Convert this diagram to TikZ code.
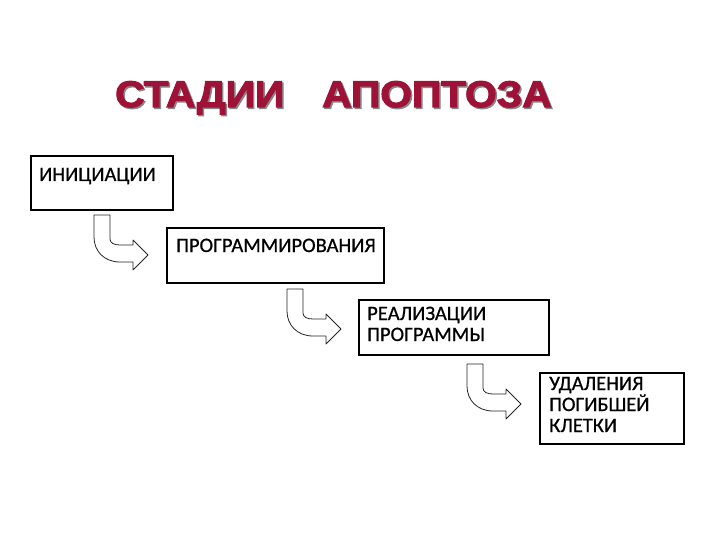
\documentclass[tikz,border=0pt]{standalone}
\usepackage{fontspec}
\setmainfont{Carlito}
\newfontfamily\boxfont{Carlito}[FakeBold=0.7]
\newfontfamily\titlefont{Liberation Sans}[FakeStretch=1.1, FakeBold=3]
\usetikzlibrary{calc}
\definecolor{titlered}{RGB}{158,18,56}
\definecolor{shadowgray}{RGB}{135,135,135}
\tikzset{
  stagebox/.style={draw=black, line width=2pt, fill=white, inner sep=0pt},
  boxtext/.style={inner sep=0pt, align=left, font=\boxfont\fontsize{20.5}{21}\selectfont, anchor=base west},
  titletext/.style={inner sep=0pt, anchor=base west, text=titlered, font=\titlefont\bfseries\fontsize{37}{40}\selectfont},
  titleshadow/.style={titletext, text=shadowgray},
  bentarrow/.style={draw=black!85, line width=0.8pt, fill=white, line join=round}
}
\newcommand{\bentarrowat}[1]{%
  \draw[bentarrow, shift={(#1)}]
    (0,0) -- (16,0) -- (16,24) .. controls (16,28) and (20,30) .. (26,30)
    -- (39,30) -- (39,25) -- (54,40) -- (39,55) -- (39,47) -- (26,47)
    .. controls (10,47) and (0,36) .. (0,22) -- cycle;}
\begin{document}
\begin{tikzpicture}[x=1pt, y=-1pt]
  \useasboundingbox[fill=white] (0,0) rectangle (720,540);

  % title with shadow
  \node[titleshadow] at (116.5,108.5) {СТАДИИ};
  \node[titleshadow] at (323.5,108.5) {АПОПТОЗА};
  \node[titletext] (t1) at (115,107) {СТАДИИ};
  \node[titletext] (t2) at (322,107) {АПОПТОЗА};

  % boxes
  \node[stagebox, minimum width=142pt, minimum height=54pt] (b1) at (102,183) {};
  \node[stagebox, minimum width=217pt, minimum height=55pt] (b2) at (275.5,255.5) {};
  \node[stagebox, minimum width=190pt, minimum height=55pt] (b3) at (454,327.5) {};
  \node[stagebox, minimum width=144pt, minimum height=71pt] (b4) at (612,408.5) {};

  % texts (anchor = baseline of the last line)
  \node[boxtext] (l1) at ($(b1.north west)+(9,26)$) {ИНИЦИАЦИИ};
  \node[boxtext] (l2) at ($(b2.north west)+(10,25)$) {ПРОГРАММИРОВАНИЯ};
  \node[boxtext] (l3) at ($(b3.north west)+(9,42)$) {РЕАЛИЗАЦИИ\\ПРОГРАММЫ};
  \node[boxtext] (l4) at ($(b4.north west)+(10,60)$) {УДАЛЕНИЯ\\ПОГИБШЕЙ\\КЛЕТКИ};

  % bent arrows
  \coordinate (a1) at (94,215);
  \coordinate (a2) at (287,289);
  \coordinate (a3) at (467,364);
  \bentarrowat{a1}
  \bentarrowat{a2}
  \bentarrowat{a3}
\end{tikzpicture}
\end{document}
